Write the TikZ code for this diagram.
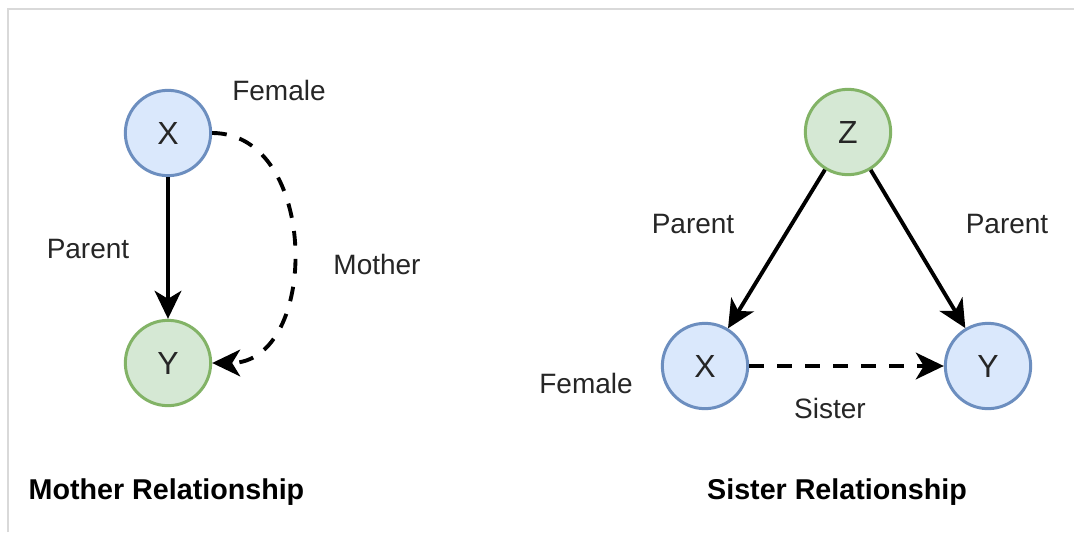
\documentclass[tikz,border=0pt]{standalone}
\usepackage{fontspec}
\setmainfont{Liberation Sans}
\usetikzlibrary{arrows.meta}
\definecolor{bfill}{HTML}{DAE8FC}
\definecolor{bdraw}{HTML}{6C8EBF}
\definecolor{gfill}{HTML}{D5E8D4}
\definecolor{gdraw}{HTML}{82B366}
\definecolor{framec}{HTML}{D9D9D9}
\tikzset{
  circnode/.style={circle, line width=2.25pt, minimum size=64pt, inner sep=0pt, font=\fontsize{24}{28}\selectfont, text=black!85},
  bnode/.style={circnode, draw=bdraw, fill=bfill},
  gnode/.style={circnode, draw=gdraw, fill=gfill},
  lbl/.style={inner sep=0pt, font=\fontsize{21}{25}\selectfont, text=black!85},
  ttl/.style={inner sep=0pt, anchor=base, font=\bfseries\fontsize{21.5}{25}\selectfont},
  edge/.style={line width=2.9pt, -{Stealth[length=21pt, width=20pt, inset=6pt]}},
  dashedge/.style={edge, dash pattern=on 11pt off 10pt}
}
\begin{document}
\begin{tikzpicture}[x=0.75pt, y=-0.75pt]
\useasboundingbox (0,0) rectangle (1074,532);
\fill[white] (0,0) rectangle (1074,532);
\draw[framec, line width=1.5pt] (8,532) -- (8,9) -- (1074,9);

% Mother relationship
\node[bnode] (mx) at (168,133) {X};
\node[gnode] (my) at (168,363) {Y};
\draw[edge] (mx) -- (my);
\draw[dashedge] (mx.east) .. controls (320,133) and (320,363) .. (my.east);
\node[lbl] (mfemale) at (279,90) {Female};
\node[lbl] (mparent) at (88,249) {Parent};
\node[lbl] (mmother) at (377,264) {Mother};
\node[ttl] (mtitle) at (166.5,499) {Mother Relationship};

% Sister relationship
\node[gnode] (sz) at (848,132) {Z};
\node[bnode] (sx) at (705,366) {X};
\node[bnode] (sy) at (988,366) {Y};
\draw[edge] (sz) -- (sx);
\draw[edge] (sz) -- (sy);
\draw[dashedge] (sx) -- (sy);
\node[lbl] (sparent1) at (693,224) {Parent};
\node[lbl] (sparent2) at (1007,224) {Parent};
\node[lbl] (sfemale) at (586,383) {Female};
\node[lbl] (ssister) at (830,408) {Sister};
\node[ttl] (stitle) at (837,499) {Sister Relationship};
\end{tikzpicture}
\end{document}
